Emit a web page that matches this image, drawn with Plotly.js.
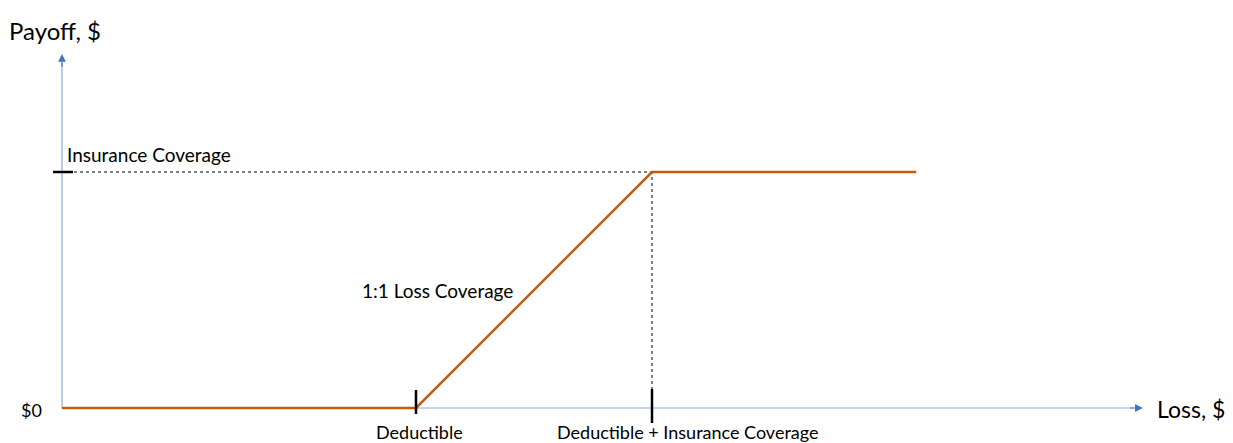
<!DOCTYPE html>
<html>
<head>
<meta charset="utf-8">
<script src="https://cdn.plot.ly/plotly-3.0.1.min.js"></script>
<style>
  html, body { margin: 0; padding: 0; background: #fff; }
  #chart { width: 1233px; height: 443px; }
</style>
</head>
<body>
<div id="chart"></div>
<script>
// Insurance payoff diagram: payoff as a function of loss
const deductible = 1500;
const coverage = 1000;
const maxLoss = 3620;

const lossPoints = [0, deductible, deductible + coverage, maxLoss];
const payoffPoints = [0, 0, coverage, coverage];

const axisEndX = 4580;   // end of the loss axis arrow
const axisEndY = 1500;   // end of the payoff axis arrow

const FONT = 'Lato, "Open Sans", sans-serif';
const ORANGE = '#C55A11';
const AXIS_LINE = '#8FAADC';
const AXIS_HEAD = '#4472C4';
const PX = 0.236;        // pixels per dollar on both axes

const payoffTrace = {
  x: lossPoints,
  y: payoffPoints,
  type: 'scatter',
  mode: 'lines',
  line: { color: ORANGE, width: 2.5 },
  hoverinfo: 'skip',
  cliponaxis: false
};

const shapes = [
  // axes
  { type: 'line', x0: 0, y0: 0, x1: axisEndX - 40, y1: 0, line: { color: AXIS_LINE, width: 1.2 }, layer: 'below' },
  { type: 'line', x0: 0, y0: 0, x1: 0, y1: axisEndY - 40, line: { color: AXIS_LINE, width: 1.2 }, layer: 'below' },
  // dotted guides to the coverage cap
  { type: 'line', x0: 0, y0: coverage, x1: deductible + coverage, y1: coverage, line: { color: '#000', width: 1, dash: 'dot' }, layer: 'below' },
  { type: 'line', x0: deductible + coverage, y0: 0, x1: deductible + coverage, y1: coverage, line: { color: '#000', width: 1, dash: 'dot' }, layer: 'below' },
  // tick marks
  { type: 'line', xsizemode: 'pixel', xanchor: 0, x0: -9, x1: 11, y0: coverage, y1: coverage, line: { color: '#000', width: 2.5 } },
  { type: 'line', ysizemode: 'pixel', yanchor: 0, y0: 18, y1: -6, x0: deductible, x1: deductible, line: { color: '#000', width: 2.5 } },
  { type: 'line', ysizemode: 'pixel', yanchor: 0, y0: 19, y1: -15, x0: deductible + coverage, x1: deductible + coverage, line: { color: '#000', width: 2.5 } }
];

const textStyle = (size) => ({ family: FONT, size: size, color: '#000' });

const annotations = [
  // arrowheads
  { x: axisEndX, y: 0, ax: axisEndX - 60, ay: 0, axref: 'x', ayref: 'y', xref: 'x', yref: 'y',
    text: '', showarrow: true, arrowhead: 2, arrowsize: 1.3, arrowwidth: 1.2, arrowcolor: AXIS_HEAD },
  { x: 0, y: axisEndY, ax: 0, ay: axisEndY - 60, axref: 'x', ayref: 'y', xref: 'x', yref: 'y',
    text: '', showarrow: true, arrowhead: 2, arrowsize: 1.3, arrowwidth: 1.2, arrowcolor: AXIS_HEAD },
  // labels
  { x: 0, y: 0, xref: 'x', yref: 'y', text: '$0', showarrow: false, xanchor: 'right', xshift: -18, yshift: -2, font: textStyle(18) },
  { x: deductible, y: 0, xref: 'x', yref: 'y', text: 'Deductible', showarrow: false, yanchor: 'middle', xshift: 3, yshift: -24, font: textStyle(18) },
  { x: deductible + coverage, y: 0, xref: 'x', yref: 'y', text: 'Deductible + Insurance Coverage', showarrow: false, yanchor: 'middle', xshift: 36, yshift: -24, font: textStyle(18) },
  { x: 0, y: coverage, xref: 'x', yref: 'y', text: 'Insurance Coverage', showarrow: false, xanchor: 'left', xshift: 3, yshift: 18, font: textStyle(19) },
  { x: deductible - 225, y: coverage * 0.49, xref: 'x', yref: 'y', text: '1:1 Loss Coverage', showarrow: false, xanchor: 'left', xshift: -3, yshift: 2, font: textStyle(19) },
  { x: axisEndX, y: 0, xref: 'x', yref: 'y', text: 'Loss, $', showarrow: false, xanchor: 'left', xshift: 12, yshift: -1, font: textStyle(23) },
  { x: 0, y: axisEndY, xref: 'x', yref: 'y', text: 'Payoff, $', showarrow: false, xanchor: 'center', yanchor: 'middle', yshift: 24, xshift: -7, font: textStyle(24) }
];

const layout = {
  width: 1233,
  height: 443,
  margin: { l: 0, r: 0, t: 0, b: 0, pad: 0 },
  paper_bgcolor: '#fff',
  plot_bgcolor: '#fff',
  showlegend: false,
  xaxis: { range: [-62 / PX, 1171 / PX], visible: false, fixedrange: true },
  yaxis: { range: [-35 / PX, 408 / PX], visible: false, fixedrange: true },
  shapes: shapes,
  annotations: annotations
};

Plotly.newPlot('chart', [payoffTrace], layout, { displayModeBar: false, staticPlot: true });
</script>
</body>
</html>
